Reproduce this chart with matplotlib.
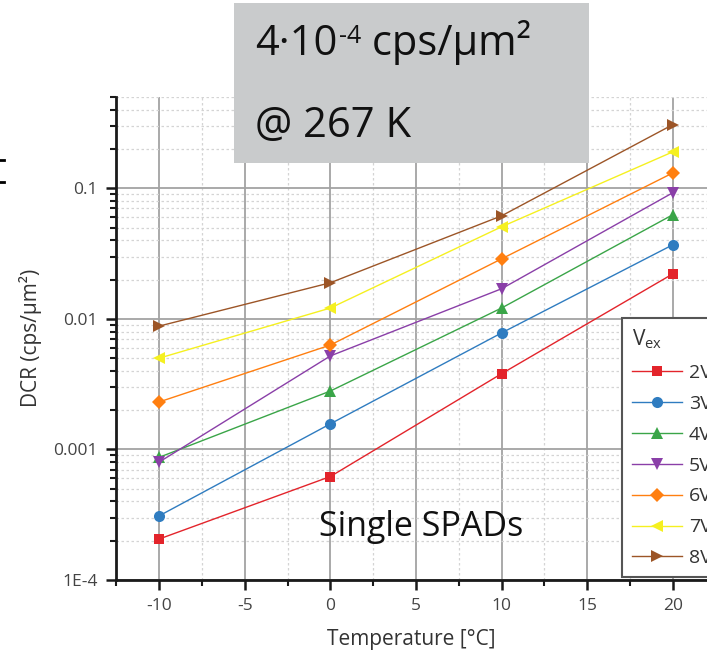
import numpy as np
import matplotlib
matplotlib.use("Agg")
import matplotlib.pyplot as plt
from matplotlib.text import Annotation
from matplotlib.ticker import FixedLocator, FuncFormatter, LogLocator, NullFormatter, MultipleLocator
from matplotlib.patches import Rectangle
from matplotlib.lines import Line2D

plt.rcParams['font.family'] = ['Open Sans', 'DejaVu Sans']
plt.rcParams['axes.unicode_minus'] = False

temperature = [-10, 0, 10, 20]
labels = ['2V', '3V', '4V', '5V', '6V', '7V', '8V']
dcr_2v = [2.06e-4, 6.2e-4, 3.8e-3, 0.0221]
dcr_3v = [3.1e-4, 1.57e-3, 7.8e-3, 0.0369]
dcr_4v = [8.7e-4, 2.8e-3, 0.0121, 0.0627]
dcr_5v = [8.0e-4, 5.2e-3, 0.0170, 0.0924]
dcr_6v = [2.31e-3, 6.3e-3, 0.0288, 0.131]
dcr_7v = [5.0e-3, 0.0121, 0.0507, 0.190]
dcr_8v = [8.8e-3, 0.0189, 0.0615, 0.307]
series = [dcr_2v, dcr_3v, dcr_4v, dcr_5v, dcr_6v, dcr_7v, dcr_8v]

colors = ['#e3242b', '#2f7cc0', '#3aa548', '#8a3fa8', '#ff7f10', '#f5f020', '#9c5527']
markers = ['s', 'o', '^', 'v', 'D', '<', '>']
msizes = [7, 8, 8.5, 8.5, 7.5, 8.5, 8.5]

W, H = 707, 662
fig = plt.figure(figsize=(W / 100, H / 100), dpi=100)
ax = fig.add_axes([115.5 / W, 82 / H, 591.5 / W, 483 / H])

for vals, lab, c, m, ms in zip(series, labels, colors, markers, msizes):
    ax.plot(temperature, vals, color=c, lw=1.0, marker=m, markersize=ms,
            markeredgewidth=0, label=lab, zorder=3)

ax.set_yscale('log')
ax.set_ylim(1e-4, 0.5)
ax.set_xlim(-12.55, 22)

ax.xaxis.set_major_locator(MultipleLocator(5))
ax.xaxis.set_minor_locator(MultipleLocator(2.5))
ax.yaxis.set_major_locator(FixedLocator([1e-4, 1e-3, 1e-2, 1e-1]))
ax.yaxis.set_minor_locator(LogLocator(base=10, subs=np.arange(2, 10)))
ax.yaxis.set_minor_formatter(NullFormatter())
ytxt = {1e-4: '1E-4', 1e-3: '0.001', 1e-2: '0.01', 1e-1: '0.1'}
ax.yaxis.set_major_formatter(FuncFormatter(lambda v, p: ytxt.get(v, '')))

ax.grid(which='major', color='#a3a3a3', lw=1.3, ls='-', zorder=0)
ax.grid(which='minor', color='#d4d4d4', lw=0.9, ls=(0, (2, 2)), zorder=0)
ax.set_axisbelow(True)

for s in ['top', 'right']:
    ax.spines[s].set_visible(False)
for s in ['left', 'bottom']:
    ax.spines[s].set_linewidth(2)
    ax.spines[s].set_color('#1a1a1a')

ax.tick_params(which='major', direction='out', length=7, width=1.8, color='#1a1a1a',
               labelsize=12.5, labelcolor='#444444', pad=6)
ax.tick_params(which='minor', direction='out', length=4, width=1.5, color='#1a1a1a')

ax.set_xlabel('Temperature [°C]', fontsize=15, color='#333333')
ax.set_ylabel('DCR (cps/µm²)', fontsize=15, color='#333333')
ax.xaxis.set_label_coords((411 - 115.5) / 591.5, -(639 - 580) / 483)
ax.yaxis.set_label_coords(-(115.5 - 31) / 591.5, (580 - 338) / 483)
ax.xaxis.label.set_va('center')
ax.yaxis.label.set_va('center')

leg = ax.legend(loc='upper left', bbox_to_anchor=(622 / W, 1 - 318 / H),
                bbox_transform=fig.transFigure, title=r'V$_{\mathregular{ex}}$',
                fontsize=14, title_fontsize=15, frameon=True, fancybox=False,
                edgecolor='#555555', framealpha=1, handlelength=2.6,
                handletextpad=0.35, borderpad=0.5, labelspacing=0.66,
                borderaxespad=0, alignment='left')
leg.get_frame().set_linewidth(1.5)
for t in leg.get_texts():
    t.set_color('#333333')
leg.get_title().set_color('#333333')

fig.text(421 / W, 1 - 527 / H, 'Single SPADs', fontsize=24.5, color='#111111',
         ha='center', va='center', zorder=6)

# header box with the reference DCR value
fig.patches.append(Rectangle((234 / W, 1 - 163 / H), 355 / W, 160 / H,
                             transform=fig.transFigure, facecolor='#c9cbcc',
                             edgecolor='none', zorder=5))
t1 = fig.text(255 / W, 1 - 65 / H, '4·10', fontsize=30, color='#111111',
              ha='left', va='bottom', zorder=6)
a2 = fig.add_artist(Annotation('-4', xy=(1.02, 0.97), xycoords=t1,
                               fontsize=18, color='#111111',
                               ha='left', va='top', zorder=6))
fig.add_artist(Annotation(' cps/µm²', xy=(1, 0), xycoords=(a2, t1),
                          fontsize=30, color='#111111',
                          ha='left', va='bottom', zorder=6))
fig.text(255 / W, 1 - 147 / H, '@ 267 K', fontsize=30, color='#111111',
         ha='left', va='bottom', zorder=6)

# bracket fragment at the left edge
for yy in (160, 182):
    fig.add_artist(Line2D([0, 4 / W], [1 - yy / H] * 2, transform=fig.transFigure,
                          color='black', lw=2))

fig.savefig('out.png', dpi=100)
